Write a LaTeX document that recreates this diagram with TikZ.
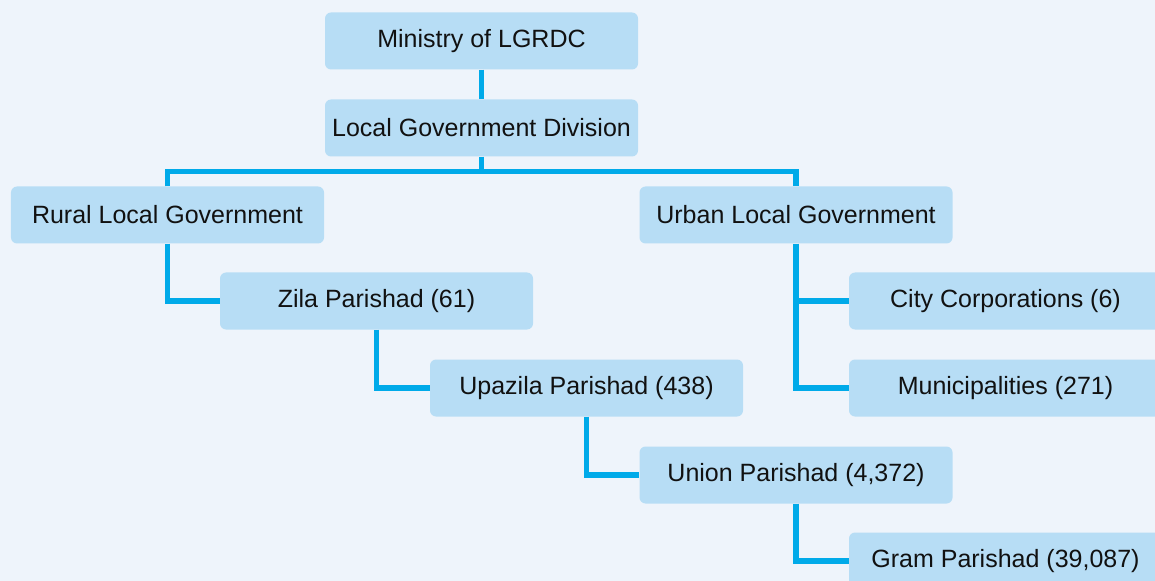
\documentclass[tikz,border=0pt]{standalone}
\usepackage{fontspec}
\setmainfont{Liberation Sans}
\definecolor{bgc}{HTML}{EEF4FB}
\definecolor{boxc}{HTML}{B7DDF5}
\definecolor{linec}{HTML}{00AAE9}
\definecolor{txtc}{HTML}{111111}
\tikzset{
  orgbox/.style={fill=boxc, rounded corners=6bp, minimum width=313bp, minimum height=57bp, inner sep=0pt, text=txtc, font=\fontsize{25bp}{29bp}\selectfont},
  link/.style={draw=linec, line width=5.5bp, line join=miter}
}
\begin{document}
\begin{tikzpicture}[x=1bp,y=-1bp]
\useasboundingbox (0,0) rectangle (1155,581);
\fill[bgc] (0,0) rectangle (1155,581);
\clip (0,0) rectangle (1155,581);
\node[orgbox] (ministry) at (481.5,41) {Ministry of LGRDC};
\node[orgbox] (lgd) at (481.5,128) {Local Government Division};
\node[orgbox] (rural) at (167.5,215) {Rural Local Government};
\node[orgbox] (urban) at (796,215) {Urban Local Government};
\node[orgbox] (zila) at (376.5,301) {Zila Parishad (61)};
\node[orgbox] (upazila) at (586.5,388) {Upazila Parishad (438)};
\node[orgbox] (union) at (796,475) {Union Parishad (4,372)};
\node[orgbox] (city) at (1005.5,301) {City Corporations (6)};
\node[orgbox] (muni) at (1005.5,388) {Municipalities (271)};
\node[orgbox] (gram) at (1005.5,561) {Gram Parishad (39,087)};
\draw[link] (ministry.south) -- (lgd.north);
\draw[link] (lgd.south) -- ++(0,15);
\draw[link] (rural.north) -- ++(0,-15) -| (urban.north);
\draw[link] (rural.south) |- (zila.west);
\draw[link] (zila.south) |- (upazila.west);
\draw[link] (upazila.south) |- (union.west);
\draw[link] (union.south) |- (gram.west);
\draw[link] (urban.south) |- (muni.west);
\draw[link] (urban.south |- city.west) -- (city.west);
\end{tikzpicture}
\end{document}
